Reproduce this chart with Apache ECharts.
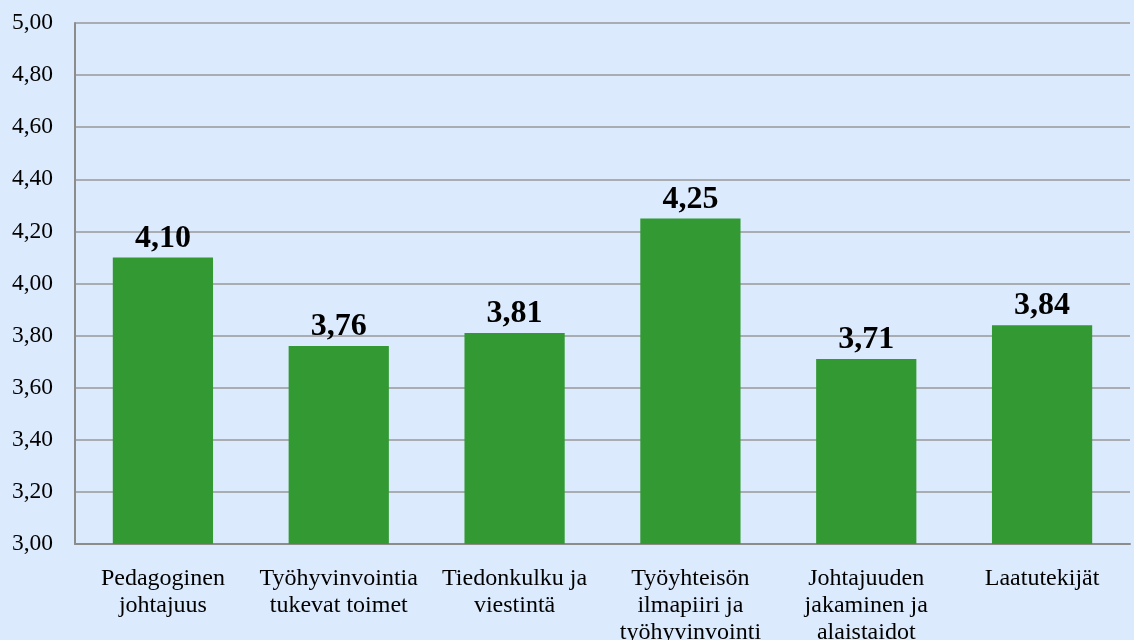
<!DOCTYPE html>
<html>
<head>
<meta charset="utf-8">
<script src="https://cdn.jsdelivr.net/npm/echarts@6/dist/echarts.min.js"></script>
<style>
  html, body { margin: 0; padding: 0; background: #dbeafc; }
  #chart { width: 1134px; height: 640px; }
</style>
</head>
<body>
<div id="chart"></div>
<script>
const categories = [
  "Pedagoginen\njohtajuus",
  "Työhyvinvointia\ntukevat toimet",
  "Tiedonkulku ja\nviestintä",
  "Työyhteisön\nilmapiiri ja\ntyöhyvinvointi",
  "Johtajuuden\njakaminen ja\nalaistaidot",
  "Laatutekijät"
];
const scores = [4.10, 3.76, 3.81, 4.25, 3.71, 3.84];
const yTicks = { min: 3, max: 5, step: 0.2 };

const fmt = (v) => v.toFixed(2).replace(".", ",");

const chart = echarts.init(document.getElementById("chart"));
chart.setOption({
  backgroundColor: "#dbeafc",
  animation: false,
  textStyle: { fontFamily: "Liberation Serif" },
  grid: { left: 75, right: 4, top: 23, bottom: 96, outerBoundsMode: "none" },
  xAxis: {
    type: "category",
    data: categories,
    axisLine: { lineStyle: { color: "#8c8c8c", width: 2 } },
    axisTick: { show: false },
    axisLabel: {
      color: "#000",
      fontSize: 24,
      lineHeight: 27,
      margin: 21,
      interval: 0,
      fontFamily: "Liberation Serif"
    }
  },
  yAxis: {
    type: "value",
    min: yTicks.min,
    max: yTicks.max,
    interval: yTicks.step,
    axisLine: { show: true, lineStyle: { color: "#8c8c8c", width: 2 } },
    axisTick: { show: false },
    splitLine: { lineStyle: { color: "#999", width: 1.5 } },
    axisLabel: {
      color: "#000",
      fontSize: 23.5,
      margin: 22,
      fontFamily: "Liberation Serif",
      formatter: (v) => fmt(v)
    }
  },
  series: [{
    type: "bar",
    data: scores,
    barCategoryGap: "43%",
    itemStyle: { color: "#339933" },
    label: {
      show: true,
      position: "top",
      distance: 3,
      color: "#000",
      fontSize: 32,
      fontWeight: "bold",
      fontFamily: "Liberation Serif",
      formatter: (p) => fmt(p.value)
    }
  }]
});
</script>
</body>
</html>
